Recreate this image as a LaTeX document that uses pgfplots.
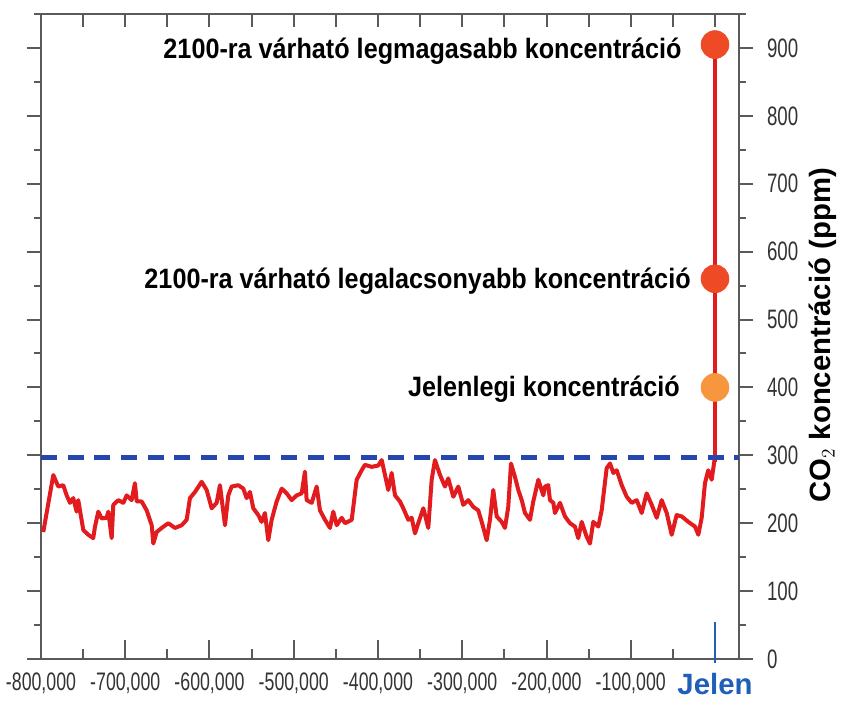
\documentclass[border=0pt]{standalone}
\usepackage{fontspec}
\setmainfont{Liberation Sans}
\newfontfamily\narrowf[FakeStretch=0.7]{Liberation Sans}
\newfontfamily\annotf[FakeStretch=0.9]{Liberation Sans}
\usepackage{pgfplots}
\usepackage{pgfplotstable}
\pgfplotsset{compat=1.18}
\definecolor{axgray}{HTML}{5A5A5A}
\definecolor{labgray}{HTML}{333333}
\definecolor{co2red}{HTML}{E11B1E}
\definecolor{dashblue}{HTML}{2446AE}
\definecolor{jelenblue}{HTML}{1F5FB8}
\definecolor{dotred}{HTML}{EE4A26}
\definecolor{dotorange}{HTML}{F6963D}

\pgfplotstableread{
x y
-797.3 187
-785.4 271
-779.5 254
-773.6 256
-769.5 241
-765.6 230
-761.7 237
-757.7 217
-755.8 234
-749.8 190
-743.9 183
-738.0 178
-735.9 195
-732.0 217
-728.0 207
-722.1 208
-720.1 217
-716.1 178
-714.2 227
-708.3 234
-702.3 230
-698.3 241
-692.4 234
-688.5 259
-686.4 232
-680.5 232
-674.6 219
-668.6 197
-666.7 170
-662.7 187
-656.8 193
-648.9 200
-641.0 193
-633.0 197
-627.1 205
-623.2 237
-617.2 246
-609.3 261
-603.4 249
-597.4 222
-591.5 230
-587.6 256
-581.6 197
-577.7 241
-573.7 254
-565.8 256
-559.9 251
-555.9 237
-552.0 246
-548.0 222
-542.1 212
-538.1 202
-534.2 215
-530.2 175
-526.2 205
-520.3 232
-514.3 251
-508.4 244
-502.5 234
-496.5 241
-490.6 244
-486.7 276
-484.7 234
-478.7 230
-472.8 254
-468.9 219
-462.9 205
-457.0 193
-453.1 217
-449.0 197
-443.1 208
-439.2 200
-431.2 205
-425.3 264
-419.4 278
-415.5 286
-407.5 283
-399.7 285
-395.6 293
-391.7 271
-387.8 249
-383.8 274
-379.8 241
-373.9 232
-370.0 222
-364.0 205
-360.0 208
-356.1 185
-352.2 200
-346.2 222
-340.3 193
-336.3 264
-332.4 293
-326.4 271
-320.5 254
-316.6 266
-310.6 239
-304.7 254
-298.8 227
-292.8 234
-286.9 224
-281.0 219
-276.9 202
-271.0 175
-267.1 205
-263.2 249
-259.1 210
-253.2 202
-249.3 193
-245.4 224
-242.1 288
-237.4 268
-233.5 249
-229.4 234
-225.5 215
-219.6 205
-215.7 232
-209.7 264
-203.8 241
-201.8 254
-197.9 256
-195.9 234
-191.9 230
-189.9 215
-184.0 230
-178.1 210
-172.1 200
-166.2 195
-162.3 178
-158.2 202
-152.3 180
-148.4 170
-144.5 202
-138.5 195
-134.5 219
-128.6 281
-124.6 288
-120.7 274
-116.7 278
-110.7 256
-104.8 239
-98.9 230
-92.9 234
-87.0 215
-81.1 244
-75.1 227
-69.2 208
-63.3 234
-57.3 215
-51.4 183
-45.5 212
-39.5 210
-31.7 202
-23.7 195
-19.8 183
-15.8 208
-11.9 259
-8.0 278
-3.9 264
-2.0 281
0 298
}\co

\begin{document}
\begin{tikzpicture}
\useasboundingbox (-30.75pt,-30.75pt) rectangle (600.75pt,494.25pt);
\pgfplotsset{every axis/.append style={scale only axis, width=523.5pt, height=483.75pt,
  xmin=-800, xmax=28.5, ymin=0, ymax=950, at={(0,0)}, anchor=south west}}

% top ticks
\begin{axis}[axis line style={draw=none}, xtick pos=right, tick align=inside,
  xtick={-750,-700,-650,-600,-550,-500,-450,-400,-350,-300,-250,-200,-150,-100,-50,0},
  xticklabels={{}}, ytick=\empty, major tick length=10pt,
  tick style={axgray, line width=1.5pt}]
\end{axis}

% y ticks
\begin{axis}[axis line style={draw=none}, xtick=\empty, tick align=outside, ytick pos=both,
  yticklabel pos=right,
  ytick={0,100,200,300,400,500,600,700,800,900},
  minor ytick={50,150,250,350,450,550,650,750,850,950},
  yticklabels={0,100,200,300,400,500,600,700,800,900},
  major tick length=10.5pt, minor tick length=5pt,
  tick style={axgray, line width=1.5pt},
  yticklabel style={font=\narrowf\fontsize{20}{20}\selectfont, text=labgray, anchor=west, xshift=7pt}]
\end{axis}

% main axis
\begin{axis}[axis line style={axgray, line width=1.5pt}, clip=false,
  xtick pos=left, tick align=inside,
  xtick={-800,-700,-600,-500,-400,-300,-200,-100,0},
  minor xtick={-750,-650,-550,-450,-350,-250,-150,-50},
  xticklabels={{-800,000},{-700,000},{-600,000},{-500,000},{-400,000},{-300,000},{-200,000},{-100,000},{\raisebox{2pt}{\normalfont\bfseries\fontsize{22}{22}\selectfont\color{jelenblue}Jelen}}},
  xticklabel style={font=\narrowf\fontsize{19}{19}\selectfont, text=labgray, yshift=-7pt},
  ytick=\empty,
  major tick length=14pt, minor tick length=7.5pt,
  tick style={axgray, line width=1.5pt}]
\addplot[co2red, line width=3pt, line join=round] table[x=x,y=y]{\co};
\addplot[co2red, line width=2.4pt] coordinates {(0,290) (0,905)};
\addplot[dashblue, line width=4pt, dash pattern=on 12pt off 8pt] coordinates {(-800,297) (28.5,297)};
\addplot[jelenblue, line width=1pt] coordinates {(0,-6) (0,54)};
\addplot[only marks, mark=*, mark size=10.5pt, color=dotred] coordinates {(0,905) (0,560)};
\addplot[only marks, mark=*, mark size=10.5pt, color=dotorange] coordinates {(0,400)};
\node[anchor=base east, inner sep=0pt, font=\annotf\bfseries\fontsize{21}{21}\selectfont] at (axis cs:-39.2,884) {2100-ra várható legmagasabb koncentráció};
\node[anchor=base east, inner sep=0pt, font=\annotf\bfseries\fontsize{21}{21}\selectfont] at (axis cs:-28.5,545) {2100-ra várható legalacsonyabb koncentráció};
\node[anchor=base east, inner sep=0pt, font=\annotf\bfseries\fontsize{21}{21}\selectfont] at (axis cs:-41.5,386) {Jelenlegi koncentráció};
\node[rotate=90, anchor=center, font=\bfseries\fontsize{22}{22}\selectfont] at (rel axis cs:1.12,0.502) {CO$_2$ koncentráció (ppm)};
\end{axis}
\end{tikzpicture}
\end{document}
